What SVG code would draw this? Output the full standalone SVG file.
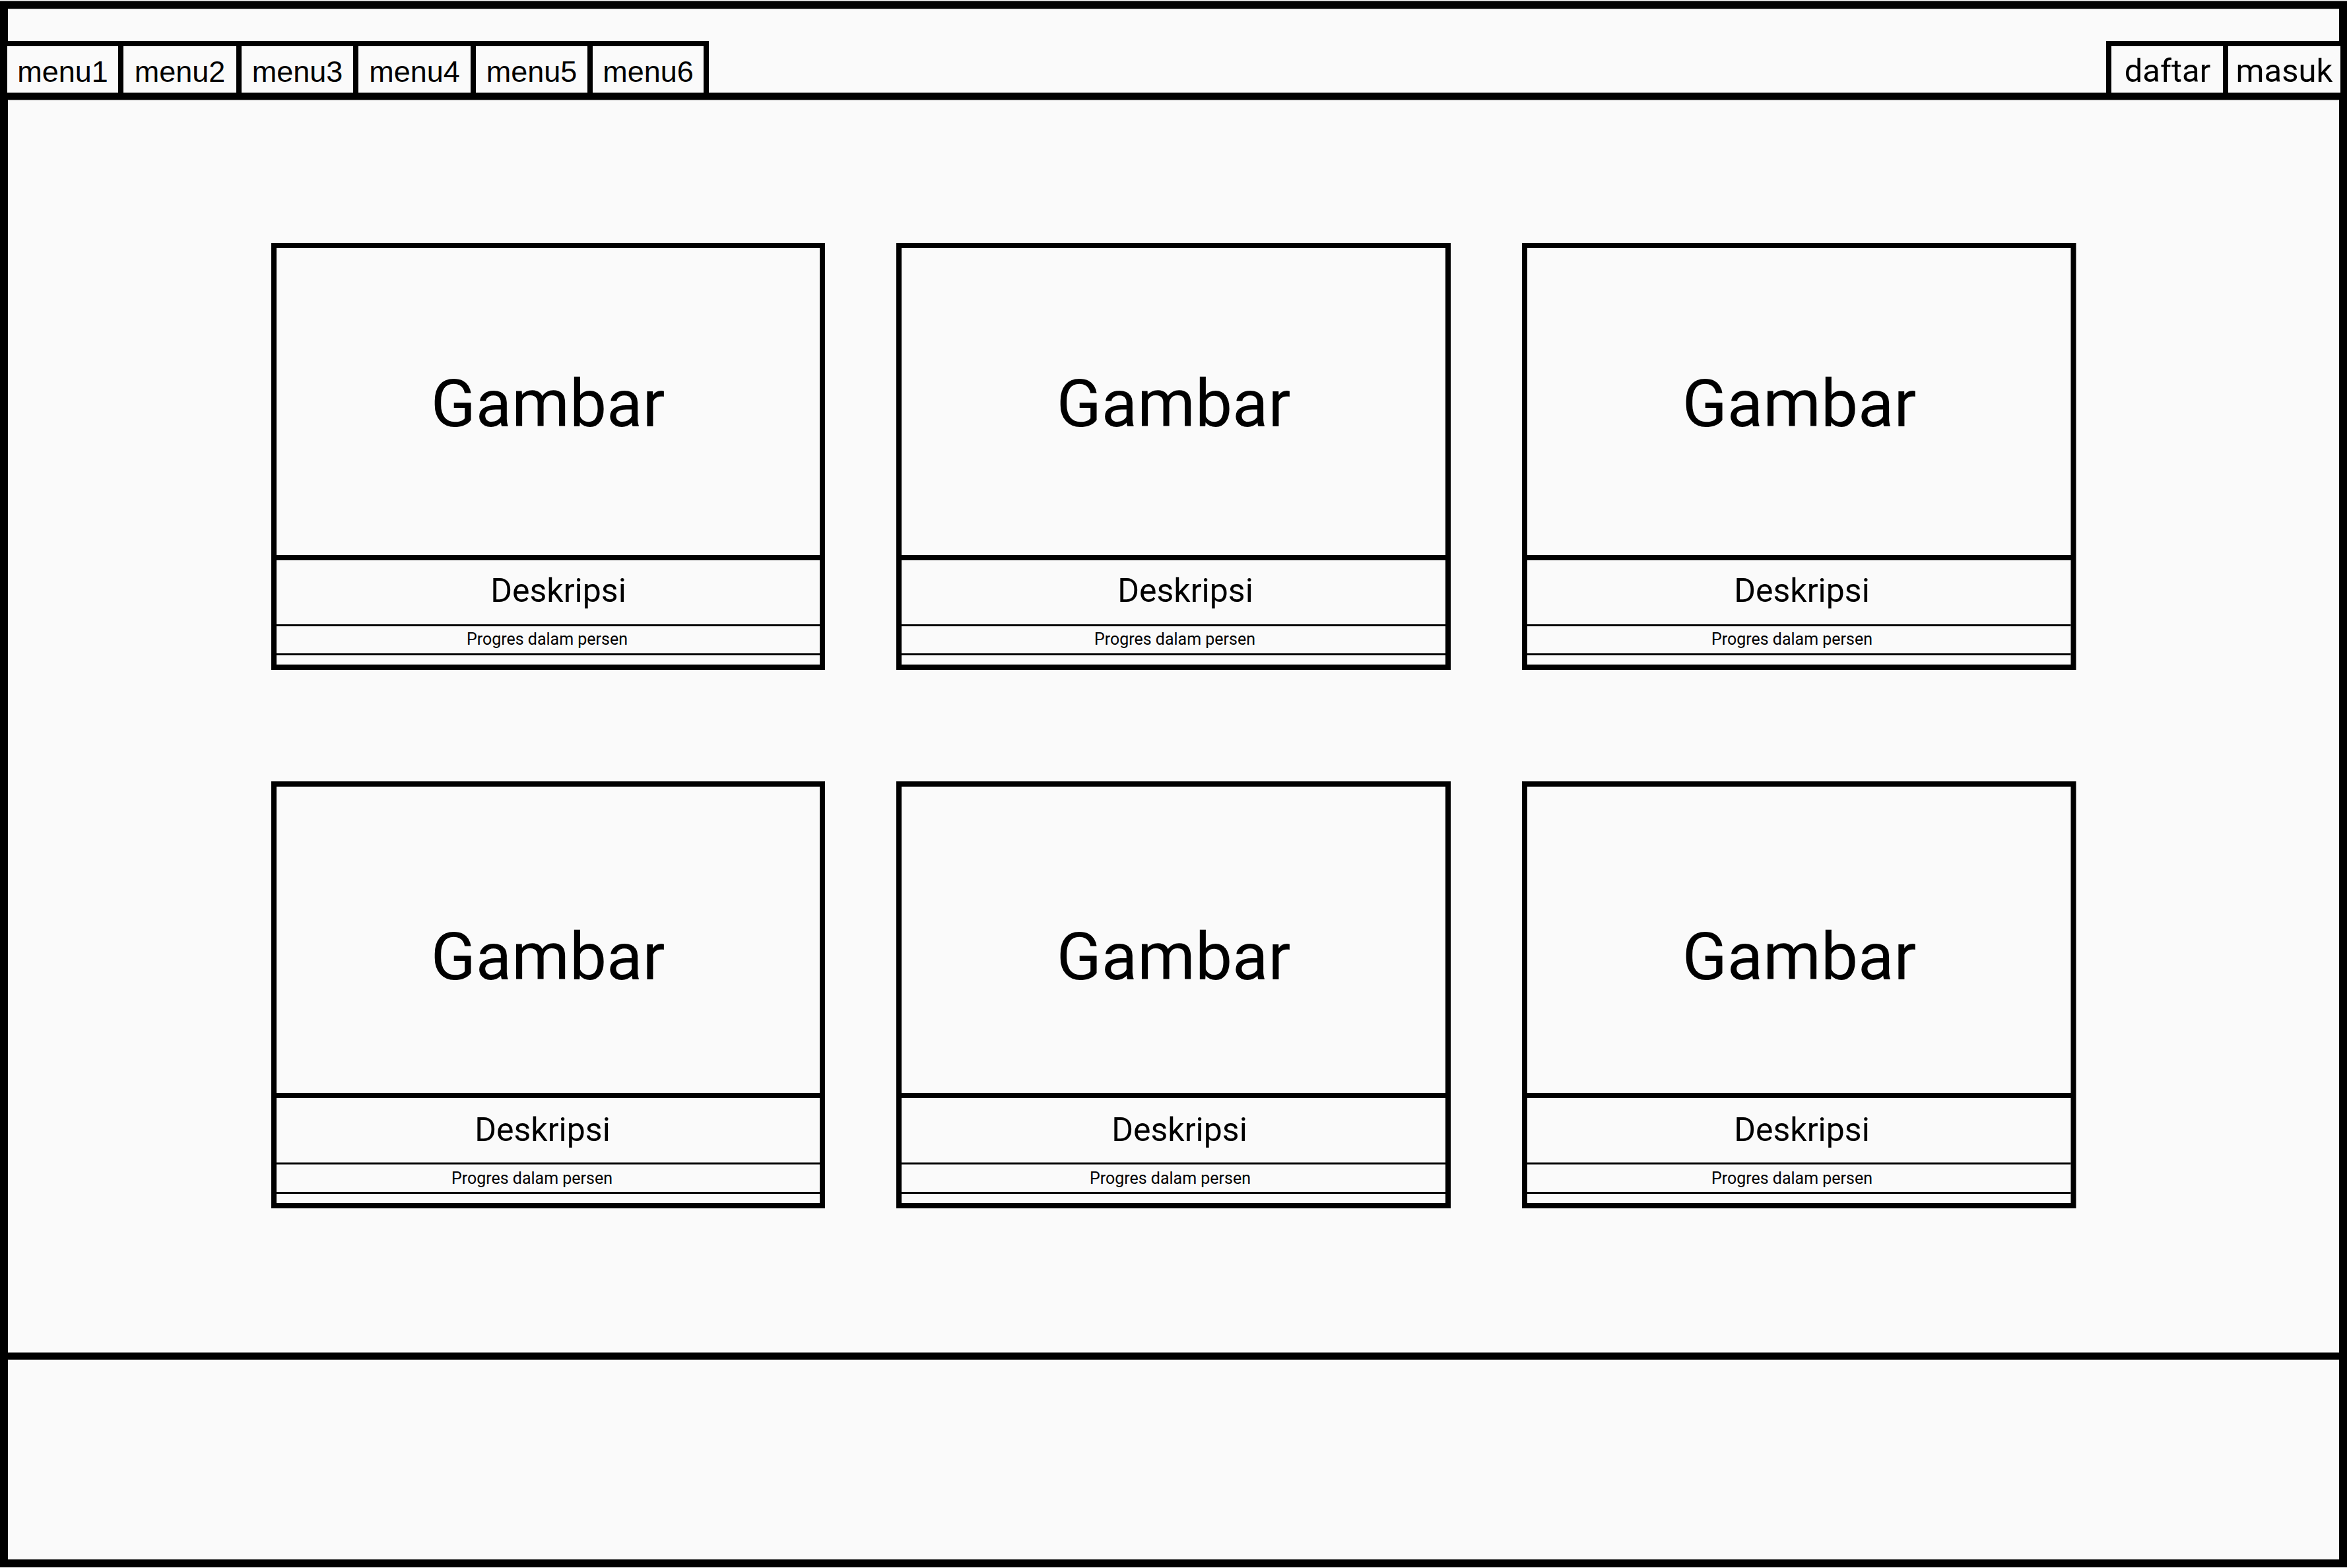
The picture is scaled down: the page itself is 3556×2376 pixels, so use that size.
<svg xmlns="http://www.w3.org/2000/svg" width="3556" height="2376" viewBox="0 0 3556 2376">
<style>
.bg{fill:#fafafa}
.frame{fill:#fafafa;stroke:#000;stroke-width:12}
.box{fill:#fafafa;stroke:#000;stroke-width:8}
.thick{stroke:#000;stroke-width:8;fill:none}
.hline{stroke:#000;stroke-width:11;fill:none}
.thin{stroke:#000;stroke-width:3;fill:none}
.menu{font-family:"Liberation Sans",Arial,sans-serif;font-size:45px;fill:#000;text-anchor:middle}
.auth{font-family:Roboto,"Noto Sans",sans-serif;font-size:49px;fill:#000;text-anchor:middle}
.gambar{font-family:Roboto,"Noto Sans",sans-serif;font-size:100px;fill:#000;text-anchor:middle}
.desk{font-family:Roboto,"Noto Sans",sans-serif;font-size:50px;fill:#000;text-anchor:middle}
.prog{font-family:Roboto,"Noto Sans",sans-serif;font-size:25px;fill:#000;text-anchor:middle}
</style>
<rect class="bg" x="0" y="0" width="3556" height="2376"/>
<g id="page">
<rect class="frame" x="6" y="7.5" width="3544" height="2361.5"/>
<line class="hline" x1="0" y1="2055" x2="3556" y2="2055"/>
</g>
<g id="menu1"><rect class="box" x="7" y="66" width="176" height="80"/><text class="menu" x="95" y="124">menu1</text></g>
<g id="menu2"><rect class="box" x="183" y="66" width="179" height="80"/><text class="menu" x="272.5" y="124">menu2</text></g>
<g id="menu3"><rect class="box" x="362" y="66" width="177" height="80"/><text class="menu" x="450.5" y="124">menu3</text></g>
<g id="menu4"><rect class="box" x="539" y="66" width="178" height="80"/><text class="menu" x="628" y="124">menu4</text></g>
<g id="menu5"><rect class="box" x="717" y="66" width="177" height="80"/><text class="menu" x="805.5" y="124">menu5</text></g>
<g id="menu6"><rect class="box" x="894" y="66" width="176" height="80"/><text class="menu" x="982" y="124">menu6</text></g>
<g id="daftar"><rect class="box" x="3195" y="66" width="177" height="80"/><text class="auth" x="3284" y="124">daftar</text></g>
<g id="masuk"><rect class="box" x="3372" y="66" width="178" height="80"/><text class="auth" x="3461" y="124">masuk</text></g>
<g id="header-line"><line class="hline" x1="0" y1="146" x2="3556" y2="146"/></g>

<g id="card1">
<rect class="box" x="415" y="372" width="831" height="639"/>
<line class="thick" x1="415" y1="845" x2="1246" y2="845"/>
<line class="thin" x1="419" y1="947.5" x2="1242" y2="947.5"/>
<line class="thin" x1="419" y1="991.5" x2="1242" y2="991.5"/>
<text class="gambar" x="830" y="646">Gambar</text>
<text class="desk" x="846" y="912">Deskripsi</text>
<text class="prog" x="829" y="977">Progres dalam persen</text>
</g>
<g id="card2">
<rect class="box" x="1362" y="372" width="832" height="639"/>
<line class="thick" x1="1362" y1="845" x2="2194" y2="845"/>
<line class="thin" x1="1366" y1="947.5" x2="2190" y2="947.5"/>
<line class="thin" x1="1366" y1="991.5" x2="2190" y2="991.5"/>
<text class="gambar" x="1778" y="646">Gambar</text>
<text class="desk" x="1796" y="912">Deskripsi</text>
<text class="prog" x="1780" y="977">Progres dalam persen</text>
</g>
<g id="card3">
<rect class="box" x="2310" y="372" width="831.5" height="639"/>
<line class="thick" x1="2310" y1="845" x2="3141.5" y2="845"/>
<line class="thin" x1="2314" y1="947.5" x2="3137.5" y2="947.5"/>
<line class="thin" x1="2314" y1="991.5" x2="3137.5" y2="991.5"/>
<text class="gambar" x="2726" y="646">Gambar</text>
<text class="desk" x="2730" y="912">Deskripsi</text>
<text class="prog" x="2715" y="977">Progres dalam persen</text>
</g>
<g id="card4">
<rect class="box" x="415" y="1188" width="831" height="639"/>
<line class="thick" x1="415" y1="1660" x2="1246" y2="1660"/>
<line class="thin" x1="419" y1="1763" x2="1242" y2="1763"/>
<line class="thin" x1="419" y1="1807.5" x2="1242" y2="1807.5"/>
<text class="gambar" x="830" y="1484">Gambar</text>
<text class="desk" x="822" y="1729">Deskripsi</text>
<text class="prog" x="806" y="1794">Progres dalam persen</text>
</g>
<g id="card5">
<rect class="box" x="1362" y="1188" width="832" height="639"/>
<line class="thick" x1="1362" y1="1660" x2="2194" y2="1660"/>
<line class="thin" x1="1366" y1="1763" x2="2190" y2="1763"/>
<line class="thin" x1="1366" y1="1807.5" x2="2190" y2="1807.5"/>
<text class="gambar" x="1778" y="1484">Gambar</text>
<text class="desk" x="1787" y="1729">Deskripsi</text>
<text class="prog" x="1773" y="1794">Progres dalam persen</text>
</g>
<g id="card6">
<rect class="box" x="2310" y="1188" width="831.5" height="639"/>
<line class="thick" x1="2310" y1="1660" x2="3141.5" y2="1660"/>
<line class="thin" x1="2314" y1="1763" x2="3137.5" y2="1763"/>
<line class="thin" x1="2314" y1="1807.5" x2="3137.5" y2="1807.5"/>
<text class="gambar" x="2726" y="1484">Gambar</text>
<text class="desk" x="2730" y="1729">Deskripsi</text>
<text class="prog" x="2715" y="1794">Progres dalam persen</text>
</g>
<g id="connectors"></g>
</svg>
